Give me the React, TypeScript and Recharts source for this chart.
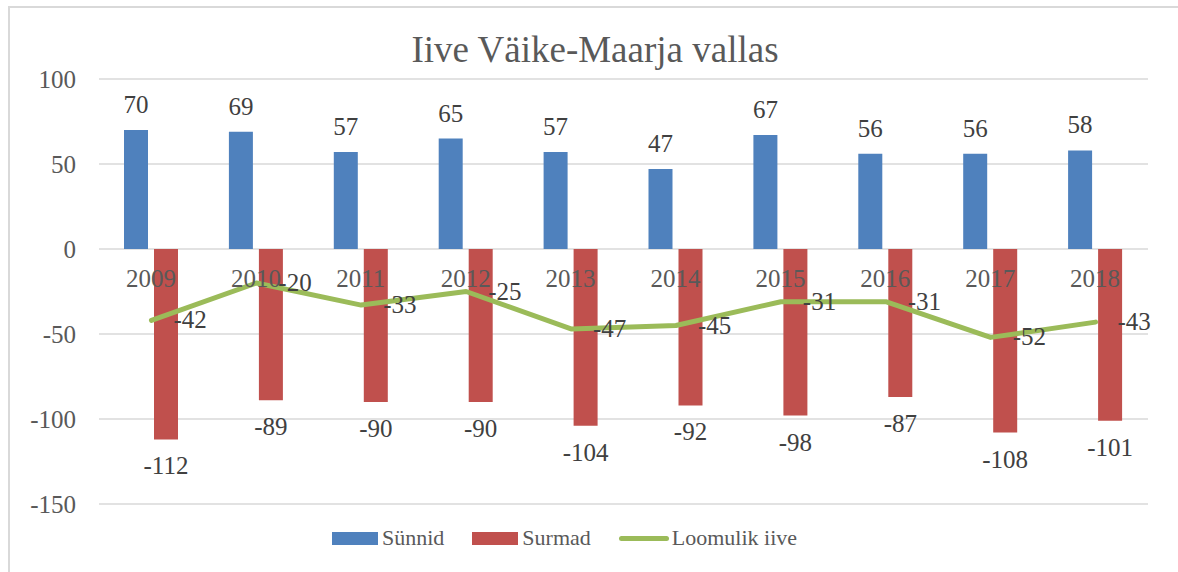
import React from 'react'
import { Bar, CartesianGrid, ComposedChart, LabelList, Legend, Line, XAxis, YAxis } from 'recharts'

const years = ['2009', '2010', '2011', '2012', '2013', '2014', '2015', '2016', '2017', '2018']
const births = [70, 69, 57, 65, 57, 47, 67, 56, 56, 58]
const deaths = [-112, -89, -90, -90, -104, -92, -98, -87, -108, -101]
const naturalChange = [-42, -20, -33, -25, -47, -45, -31, -31, -52, -43]
const seriesNames = ['Sünnid', 'Surmad', 'Loomulik iive']
const yTicks = [-150, -100, -50, 0, 50, 100]

const data = years.map((year, i) => ({
    year,
    births: births[i],
    deaths: deaths[i],
    change: naturalChange[i],
}))

const BLUE = '#4f81bd'
const RED = '#c0504d'
const GREEN = '#9bbb59'
const FONT = '"Liberation Serif", "DejaVu Serif", serif'
const BAR_GAP = 6

// read the mark box from label props (viewBox in v3, plain props as fallback)
const getBox = (props: any) => {
    const vb = props.viewBox ?? {}
    const x = Number(vb.x ?? props.x ?? 0)
    const y = Number(vb.y ?? props.y ?? 0)
    const w = Number(vb.width ?? props.width ?? 0)
    const h = Number(vb.height ?? props.height ?? 0)
    return { x, y, w, h }
}

const BirthLabel = (props: any) => {
    const { x, y, w, h } = getBox(props)
    const top = Math.min(y, y + h)
    return (
        <text x={x + w / 2} y={top - 17} textAnchor="middle" fill="#404040" fontFamily={FONT} fontSize={25}>
            {props.value}
        </text>
    )
}

const DeathLabel = (props: any) => {
    const { x, y, w, h } = getBox(props)
    const bottom = Math.max(y, y + h)
    return (
        <text x={x + w / 2} y={bottom + 35} textAnchor="middle" fill="#404040" fontFamily={FONT} fontSize={25}>
            {props.value}
        </text>
    )
}

// year labels sit just under the zero line, centred on the category
const YearLabel = (props: any) => {
    const { x, y, h } = getBox(props)
    const zero = Math.min(y, y + h)
    return (
        <text x={x - BAR_GAP / 2} y={zero + 38} textAnchor="middle" fill="#595959" fontFamily={FONT} fontSize={25}>
            {props.value}
        </text>
    )
}

const ChangeLabel = (props: any) => {
    const { x, y } = getBox(props)
    return (
        <text x={x + 22} y={y + 8} textAnchor="start" fill="#404040" fontFamily={FONT} fontSize={25}>
            {props.value}
        </text>
    )
}

const CustomLegend = (props: any) => {
    const payload = [...(props.payload ?? [])].sort(
        (a: any, b: any) => seriesNames.indexOf(a.value) - seriesNames.indexOf(b.value)
    )
    return (
        <div
            style={{
                height: 68,
                display: 'flex',
                alignItems: 'center',
                paddingLeft: 332,
                boxSizing: 'border-box',
                fontFamily: FONT,
                fontSize: 22,
                color: '#595959',
            }}
        >
            {payload.map((entry: any, i: number) => (
                <div key={entry.value} style={{ display: 'flex', alignItems: 'center', marginRight: i < payload.length - 1 ? 28 : 0 }}>
                    {entry.type === 'line' ? (
                        <div style={{ width: 50, height: 5, borderRadius: 3, background: entry.color, marginRight: 3 }} />
                    ) : (
                        <div style={{ width: 46, height: 13, background: entry.color, marginRight: 4 }} />
                    )}
                    <span>{entry.value}</span>
                </div>
            ))}
        </div>
    )
}

export default function App() {
    return (
        <div style={{ position: 'fixed', left: 0, top: 0, width: 1178, height: 572, overflow: 'hidden', background: '#fff' }}>
            <div
                style={{
                    position: 'absolute',
                    left: 8,
                    top: 6,
                    width: 1200,
                    height: 600,
                    border: '2px solid #d9d9d9',
                }}
            />
            <svg style={{ position: 'absolute', left: 0, top: 0 }} width={1178} height={80}>
                <text x={595} y={62} textAnchor="middle" fill="#595959" fontFamily={FONT} fontSize={37}>
                    Iive Väike-Maarja vallas
                </text>
            </svg>
            <div style={{ position: 'absolute', left: 0, top: 0 }}>
                <ComposedChart
                    width={1178}
                    height={572}
                    data={data}
                    margin={{ top: 79, right: 30, left: 0, bottom: 0 }}
                    barSize={24}
                    barGap={BAR_GAP}
                >
                    <CartesianGrid vertical={false} stroke="#d9d9d9" strokeWidth={1.5} />
                    <XAxis dataKey="year" hide />
                    <YAxis
                        domain={[-150, 100]}
                        ticks={yTicks}
                        axisLine={false}
                        tickLine={false}
                        tickSize={0}
                        tickMargin={23}
                        width={99}
                        tick={{ fill: '#595959', fontSize: 25, fontFamily: FONT }}
                    />
                    <Legend
                        verticalAlign="bottom"
                        itemSorter={null}
                        wrapperStyle={{ left: 0, bottom: 0, width: 1178 }}
                        content={<CustomLegend />}
                    />
                    <Bar dataKey="births" name={seriesNames[0]} fill={BLUE} isAnimationActive={false}>
                        <LabelList dataKey="births" content={<BirthLabel />} />
                    </Bar>
                    <Bar dataKey="deaths" name={seriesNames[1]} fill={RED} isAnimationActive={false}>
                        <LabelList dataKey="deaths" content={<DeathLabel />} />
                        <LabelList dataKey="year" content={<YearLabel />} />
                    </Bar>
                    <Line
                        dataKey="change"
                        name={seriesNames[2]}
                        type="linear"
                        stroke={GREEN}
                        strokeWidth={5}
                        strokeLinejoin="round"
                        strokeLinecap="round"
                        dot={false}
                        legendType="line"
                        isAnimationActive={false}
                    >
                        <LabelList dataKey="change" content={<ChangeLabel />} />
                    </Line>
                </ComposedChart>
            </div>
        </div>
    )
}
